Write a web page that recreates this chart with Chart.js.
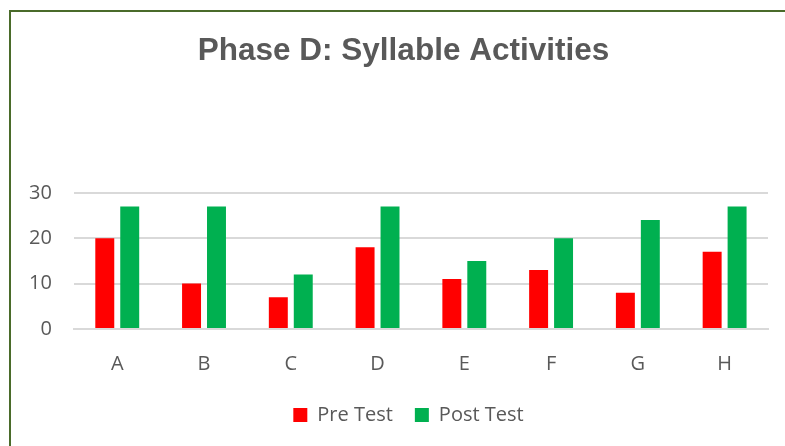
<!DOCTYPE html>
<html>
<head>
<meta charset="utf-8">
<script src="https://cdn.jsdelivr.net/npm/chart.js@4/dist/chart.umd.min.js"></script>
<style>
  html, body { margin: 0; padding: 0; background: #ffffff; }
  #wrap { position: relative; width: 785px; height: 446px; overflow: hidden; }
  #frame { position: absolute; left: 9px; top: 10px; width: 900px; height: 600px;
           border: 2px solid #4a6b2a; box-sizing: border-box; pointer-events: none; }
  canvas { position: absolute; left: 0; top: 0; }
</style>
</head>
<body>
<div id="wrap">
  <canvas id="c" width="785" height="446"></canvas>
  <div id="frame"></div>
</div>
<script>
const categories = ["A", "B", "C", "D", "E", "F", "G", "H"];
const preTest  = [20, 10, 7, 18, 11, 13, 8, 17];
const postTest = [27, 27, 12, 27, 15, 20, 24, 27];
const yTicks = [0, 10, 20, 30];

const gray = '#595959';
const LEG_TRIM = 16;
const layoutTweaks = {
  id: 'layoutTweaks',
  beforeLayout(chart) {
    const lg = chart.legend;
    if (lg && !lg._patched) {
      const orig = lg.fit;
      lg.fit = function () { orig.call(this); this.height -= LEG_TRIM; };
      lg._patched = true;
    }
  },
  afterLayout(chart) {
    const t = chart.titleBlock;
    if (t) { t.left += 16; t.right += 16; }
    const lg = chart.legend;
    if (lg) { lg.top -= LEG_TRIM; lg.left += 21; lg.right += 21; }
  }
};
new Chart(document.getElementById('c'), {
  type: 'bar',
  plugins: [layoutTweaks],
  data: {
    labels: categories,
    datasets: [
      { label: 'Pre Test', data: preTest, backgroundColor: '#ff0000',
        categoryPercentage: 0.575, barPercentage: 0.76 },
      { label: 'Post Test', data: postTest, backgroundColor: '#00b050',
        categoryPercentage: 0.575, barPercentage: 0.76 }
    ]
  },
  options: {
    responsive: false,
    animation: false,
    layout: { padding: { left: 7, right: 17, top: 0, bottom: 11 } },
    plugins: {
      title: {
        display: true,
        text: 'Phase D: Syllable Activities',
        color: gray,
        font: { family: 'Liberation Sans', size: 31.5, weight: 'bold' },
        padding: { top: 32, bottom: 123 }
      },
      legend: {
        position: 'bottom',
        labels: {
          color: gray,
          font: { family: 'Open Sans', size: 20 },
          boxWidth: 14, boxHeight: 14, padding: 22
        }
      },
      tooltip: { enabled: false }
    },
    scales: {
      x: {
        grid: { display: false, drawTicks: false },
        border: { color: '#d9d9d9', width: 2 },
        ticks: { color: gray, font: { family: 'Open Sans', size: 20 }, padding: 23 }
      },
      y: {
        min: 0, max: 30,
        afterBuildTicks: (axis) => { axis.ticks = yTicks.map(v => ({ value: v })); },
        grid: { color: '#d9d9d9', lineWidth: 2, drawTicks: false },
        border: { display: false },
        ticks: { color: gray, font: { family: 'Open Sans', size: 20 }, padding: 22 }
      }
    }
  }
});
</script>
</body>
</html>
